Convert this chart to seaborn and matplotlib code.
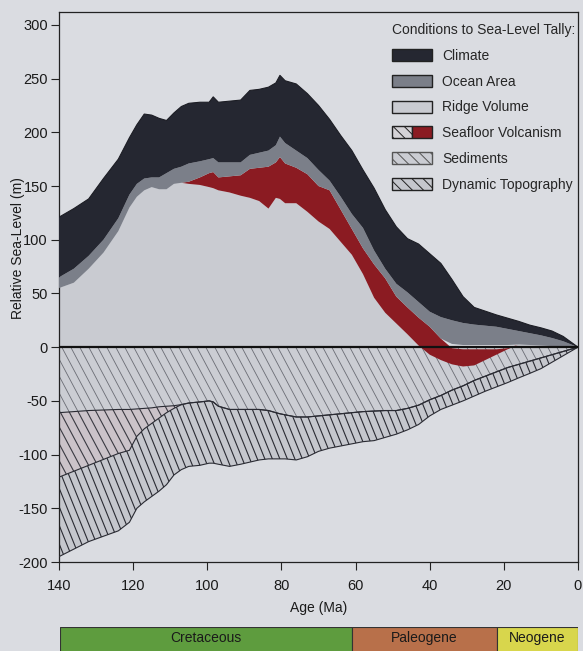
import numpy as np
import matplotlib
matplotlib.use("Agg")
import matplotlib.pyplot as plt
import seaborn as sns
from matplotlib.collections import LineCollection
from matplotlib.patches import Patch
from matplotlib.legend_handler import HandlerTuple

# ---------------- data ----------------
ages = [140, 136, 132, 128, 124, 121, 119, 117, 115, 113, 111, 109, 107, 105, 102,
        99.5, 98.4, 97, 94, 91, 88.5, 86, 83.5, 81.5, 80.4, 79, 76, 73, 70, 67,
        64, 61, 58, 55, 52, 49, 46, 43, 40, 37, 34, 31, 28, 25, 22, 19, 16, 13,
        10, 7, 4, 0]

climate_top = [121, 129, 138, 157, 175, 195, 207, 217, 216, 213, 211, 218, 224, 227, 228,
               228, 233, 228, 229, 230, 239, 240, 242, 246, 253, 248, 245, 236, 225, 212,
               197, 183, 165, 148, 128, 112, 101, 96, 87, 78, 63, 47, 37, 33.5, 30, 27, 24, 20.5,
               18, 15, 10, 0]

ocean_top = [65, 73, 85, 100, 120, 142, 152, 157, 158, 158, 162, 166, 168, 171, 173,
             175, 176, 172, 172, 172, 179, 181, 183, 188, 196, 190, 183, 176, 165, 155,
             140, 124, 111, 90, 73, 59, 51, 42, 33, 28, 25, 22.5, 21, 20, 19, 17, 15, 13,
             11, 8.5, 5.5, 0]

ocean_bottom = [55, 60, 73, 88, 108, 130, 140, 146, 149, 147, 147, 152, 153, 154, 158,
                162, 163, 158, 159, 160, 166, 167, 168, 172, 177, 171, 167, 161, 150, 146,
                128, 110, 92, 77, 64, 47, 37, 27.5, 19, 8, 3, 2, 2, 2, 2, 2, 2.5, 2,
                1.5, 1, 0.5, 0]

volc_top = [55, 60, 73, 88, 108, 130, 140, 146, 149, 147, 147, 152, 153, 154, 158,
            162, 163, 158, 159, 160, 166, 167, 168, 172, 177, 171, 167, 161, 150, 146,
            128, 110, 92, 77, 64, 47, 37, 27.5, 19, 8, -1, -2, -2, -2, -2, -1, 2.5, 2,
            1.5, 1, 0.5, 0]

ridge_top = [55, 60, 73, 88, 108, 130, 140, 146, 149, 147, 147, 152, 153, 152, 151,
             149, 148, 146, 144, 141, 139, 136, 129, 139, 138, 134, 134, 126, 117, 110,
             98, 86, 68, 46, 32, 22, 12, 1.5, -7, -12, -16, -18, -17, -12, -7, -2, 2.5, 2,
             1.5, 1, 0.5, 0]

sediment_bottom = [-61, -60, -59, -58.5, -58, -58, -57.5, -57, -56.5, -55.5, -55, -54.5, -53.5, -52, -51,
                   -50, -51, -55, -58, -58, -58, -58, -59, -61, -62, -63, -65, -65, -64, -63,
                   -62, -61, -60, -59.5, -59, -59, -57, -54, -49, -45, -40, -36, -31, -27, -23, -19, -16, -13,
                   -10, -7, -4, 0]

volc_neg_bottom = [-121, -115.5, -110, -104.5, -99, -96, -83, -76, -71, -66, -61, -57, -53.5, -52, -51,
                   -50, -51, -55, -58, -58, -58, -58, -59, -61, -62, -63, -65, -65, -64, -63,
                   -62, -61, -60, -59.5, -59, -59, -57, -54, -49, -45, -40, -36, -31, -27, -23, -19, -16, -13,
                   -10, -7, -4, 0]

dyn_bottom = [-195, -188, -181, -176, -171, -163, -150, -144, -139, -134, -128, -119, -114, -111, -110,
              -108, -108, -109, -111, -109, -107, -105, -104, -104, -104, -104, -105, -102, -97, -94,
              -92, -90, -88, -87, -84, -81, -77, -72, -64, -58, -54, -50, -45.5, -41, -37, -33, -28.6, -24.4,
              -20, -14, -8, 0]

periods = ["Cretaceous", "Paleogene", "Neogene"]
period_start = [140, 61, 22]
period_end = [61, 22, 0]

yticks = [-200, -150, -100, -50, 0, 50, 100, 150, 200, 250, 300]
xticks = [140, 120, 100, 80, 60, 40, 20, 0]

# ---------------- style ----------------
sns.set_theme(style="ticks")
plt.rcParams["font.family"] = ["Liberation Sans", "DejaVu Sans"]
plt.rcParams["hatch.linewidth"] = 0.7
plt.rcParams["axes.unicode_minus"] = False

BG = "#dadce1"
C_CLIMATE = "#252731"
C_OCEAN = "#7b7f89"
C_RIDGE = "#c9cbd1"
C_RED = "#8b1b22"
C_SED = "#cbcdd3"
C_VNEG = "#cbc3c9"
C_DYN = "#c5c7cd"
C_LINE = "#2a2b33"
period_colors = ["#5e9c3e", "#b8704a", "#d8d64c"]

FW, FH = 583, 651
fig = plt.figure(figsize=(FW / 100, FH / 100), dpi=100, facecolor=BG)
L, B, W, H = 59 / FW, 1 - 562 / FH, 519 / FW, 550 / FH
ax = fig.add_axes([L, B, W, H])
ax.set_facecolor(BG)

x = np.array(ages, dtype=float)


def add_hatch(ax, poly, spacing, angle, color, lw):
    Wp, Hp = W * FW, H * FH
    shift = Hp / np.tan(np.radians(angle))
    starts = np.arange(-shift, Wp + spacing, spacing)
    segs = [[(s / Wp, 1.0), ((s + shift) / Wp, 0.0)] for s in starts]
    lc = LineCollection(segs, colors=color, linewidths=lw, transform=ax.transAxes, zorder=poly.get_zorder() + 0.1)
    ax.add_collection(lc, autolim=False)
    lc.set_clip_path(poly.get_paths()[0], ax.transData)
    return lc


# positive side
ax.fill_between(x, 0, ridge_top, facecolor=C_RIDGE, edgecolor="none", zorder=2)
ax.fill_between(x, ridge_top, volc_top, facecolor=C_RED, edgecolor="none", zorder=3)
ax.fill_between(x, ocean_bottom, ocean_top, facecolor=C_OCEAN, edgecolor="none", zorder=3)
ax.fill_between(x, ocean_top, climate_top, facecolor=C_CLIMATE, edgecolor="none", zorder=3)

# negative side
p_sed = ax.fill_between(x, 0, sediment_bottom, facecolor=C_SED, edgecolor="none", zorder=2)
add_hatch(ax, p_sed, 9, 62, "#6a6c74", 0.6)
p_vn = ax.fill_between(x, sediment_bottom, volc_neg_bottom, facecolor=C_VNEG, edgecolor="none", zorder=2)
add_hatch(ax, p_vn, 9, 62, "#3a3a42", 0.8)
p_dyn = ax.fill_between(x, volc_neg_bottom, dyn_bottom, facecolor=C_DYN, edgecolor="none", zorder=2)
add_hatch(ax, p_dyn, 7.5, 68, "#2a2b33", 0.8)

for yy in (sediment_bottom, volc_neg_bottom, dyn_bottom):
    sns.lineplot(x=ages, y=yy, ax=ax, color=C_LINE, lw=0.8, zorder=4)
sns.lineplot(x=ages, y=climate_top, ax=ax, color="#1c1d24", lw=0.8, zorder=4)

ax.axhline(0, color="#111111", lw=1.6, zorder=5)

ax.set_xlim(140, 0)
ax.set_ylim(-200, 312)
ax.set_xticks(xticks)
ax.set_yticks(yticks)
ax.tick_params(axis="both", labelsize=10.5, length=6, width=0.8, color="#222", labelcolor="#1a1a1a", direction="out")
ax.tick_params(axis="x", pad=6)
ax.tick_params(axis="y", pad=2)
for s in ax.spines.values():
    s.set_visible(True)
    s.set_linewidth(0.9)
    s.set_color("#222")
ax.set_xlabel("Age (Ma)", fontsize=10, color="#1a1a1a", labelpad=6)
ax.set_ylabel("Relative Sea-Level (m)", fontsize=10, color="#1a1a1a")
ax.yaxis.set_label_coords(-0.066, 0.57)

# legend
handles = [
    Patch(facecolor=C_CLIMATE, edgecolor="#222"),
    Patch(facecolor=C_OCEAN, edgecolor="#222"),
    Patch(facecolor=C_RIDGE, edgecolor="#222"),
    (Patch(facecolor="#d4d2d6", edgecolor="#222", hatch="\\\\\\"), Patch(facecolor=C_RED, edgecolor="#222")),
    Patch(facecolor=C_SED, edgecolor="#555", hatch="\\\\\\"),
    Patch(facecolor=C_DYN, edgecolor="#222", hatch="\\\\\\"),
]
labels = ["Climate", "Ocean Area", "Ridge Volume", "Seafloor Volcanism", "Sediments", "Dynamic Topography"]
leg = ax.legend(handles, labels, handler_map={tuple: HandlerTuple(ndivide=None, pad=0)},
                loc="upper left", bbox_to_anchor=(392 / FW, 1 - 23 / FH), bbox_transform=fig.transFigure,
                frameon=False, fontsize=10, title="Conditions to Sea-Level Tally:", title_fontsize=10,
                alignment="left", handlelength=2.9, handleheight=0.95, labelspacing=0.85,
                handletextpad=0.72, borderpad=0, borderaxespad=0)
leg.set_zorder(10)

# period bar
axp = fig.add_axes([60 / FW, -0.01, 518 / FW, (651 - 627) / FH + 0.01])
axp.barh([0] * len(periods), [s - e for s, e in zip(period_start, period_end)], left=period_end,
         color=period_colors, edgecolor="#333", linewidth=0.8, height=1.0)
axp.set_xlim(140, 0)
axp.set_ylim(-0.5, 0.5)
axp.axis("off")
for name, s, e in zip(periods, period_start, period_end):
    axp.text((s + e) / 2, 0.15, name, ha="center", va="center", fontsize=10, color="#1a1a1a")

fig.savefig("out.png", dpi=100, facecolor=BG)
